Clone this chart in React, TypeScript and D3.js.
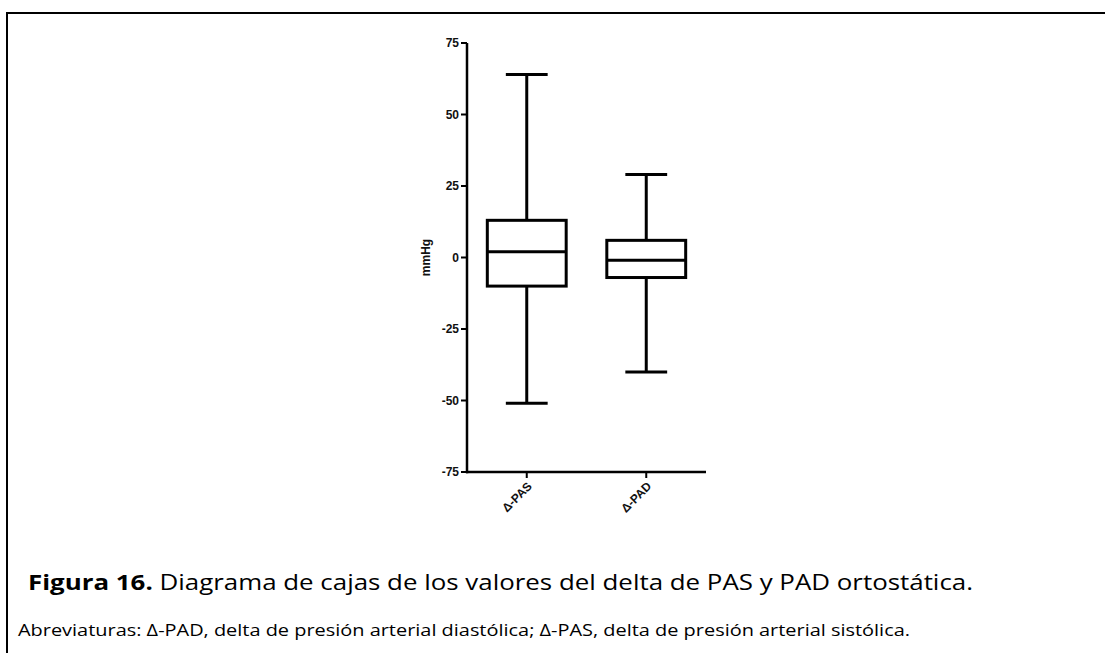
import React from "react";
import * as d3 from "d3";

// Groups and their five-number summaries (mmHg)
const categories = ["Δ-PAS", "Δ-PAD"];
const whiskerMin = [-51, -40];
const quartile1 = [-10, -7];
const medians = [2, -1];
const quartile3 = [13, 6];
const whiskerMax = [64, 29];
const yTicks = [-75, -50, -25, 0, 25, 50, 75];

const captionTitle = "Figura 16.";
const captionText = " Diagrama de cajas de los valores del delta de PAS y PAD ortostática.";
const abbreviations =
  "Abreviaturas: Δ-PAD, delta de presión arterial diastólica; Δ-PAS, delta de presión arterial sistólica.";

const W = 1105;
const H = 653;

export default function App() {
  const y = d3.scaleLinear().domain([-75, 75]).range([472, 43]);
  const x = d3.scaleBand<string>().domain(categories).range([467, 706]).padding(0);
  const bw = x.bandwidth();
  const boxW = bw * 0.66;
  const capW = bw * 0.35;
  const axisFont = "'Liberation Sans', Arial, sans-serif";
  const capFont = "'Open Sans', 'Noto Sans', sans-serif";

  const boxes = categories.map((c, i) => ({
    c,
    cx: x(c)! + bw / 2,
    min: whiskerMin[i],
    q1: quartile1[i],
    med: medians[i],
    q3: quartile3[i],
    max: whiskerMax[i],
  }));

  return (
    <svg
      width={W}
      height={H}
      style={{ position: "absolute", left: 0, top: 0, background: "#fff" }}
    >
      {/* figure frame */}
      <line x1={7} x2={W} y1={13} y2={13} stroke="#000" strokeWidth={2} />
      <line x1={7} x2={7} y1={12} y2={H} stroke="#000" strokeWidth={2} />

      {/* y axis */}
      <line x1={467} x2={467} y1={y(75)} y2={y(-75) + 1.25} stroke="#000" strokeWidth={2.5} />
      {yTicks.map((t) => (
        <g key={t}>
          <line x1={461} x2={467} y1={y(t)} y2={y(t)} stroke="#000" strokeWidth={2} />
          <text
            x={459}
            y={y(t)}
            dy="0.35em"
            textAnchor="end"
            fontFamily={axisFont}
            fontWeight="bold"
            fontSize={12}
            fill="#111"
          >
            {t}
          </text>
        </g>
      ))}
      <text
        transform={`translate(426,${y(0)}) rotate(-90)`}
        textAnchor="middle"
        dy="0.35em"
        fontFamily={axisFont}
        fontWeight="bold"
        fontSize={12}
        fill="#111"
      >
        mmHg
      </text>

      {/* x axis */}
      <line x1={466} x2={706} y1={y(-75)} y2={y(-75)} stroke="#000" strokeWidth={2.5} />
      {boxes.map((b) => (
        <g key={b.c}>
          <line x1={b.cx} x2={b.cx} y1={y(-75)} y2={y(-75) + 6} stroke="#000" strokeWidth={2} />
          <text
            transform={`translate(${b.cx + 3},${y(-75) + 12}) rotate(-45)`}
            textAnchor="end"
            dy="0.35em"
            fontFamily={axisFont}
            fontWeight="bold"
            fontSize={12}
            fill="#111"
          >
            {b.c}
          </text>
        </g>
      ))}

      {/* boxes and whiskers */}
      {boxes.map((b) => (
        <g key={"box" + b.c} stroke="#000" strokeWidth={3} fill="none">
          <line x1={b.cx} x2={b.cx} y1={y(b.max)} y2={y(b.q3)} />
          <line x1={b.cx} x2={b.cx} y1={y(b.q1)} y2={y(b.min)} />
          <line x1={b.cx - capW / 2} x2={b.cx + capW / 2} y1={y(b.max)} y2={y(b.max)} />
          <line x1={b.cx - capW / 2} x2={b.cx + capW / 2} y1={y(b.min)} y2={y(b.min)} />
          <rect x={b.cx - boxW / 2} y={y(b.q3)} width={boxW} height={y(b.q1) - y(b.q3)} fill="#fff" />
          <line x1={b.cx - boxW / 2} x2={b.cx + boxW / 2} y1={y(b.med)} y2={y(b.med)} />
        </g>
      ))}

      {/* caption */}
      <text x={28} y={590} fontFamily={capFont} fontSize={22} fill="#000" textLength={945} lengthAdjust="spacingAndGlyphs">
        <tspan fontWeight="bold">{captionTitle}</tspan>
        <tspan>{captionText}</tspan>
      </text>
      <text x={18} y={636} fontFamily={capFont} fontSize={16} fill="#000" textLength={892} lengthAdjust="spacingAndGlyphs">
        {abbreviations}
      </text>
    </svg>
  );
}
